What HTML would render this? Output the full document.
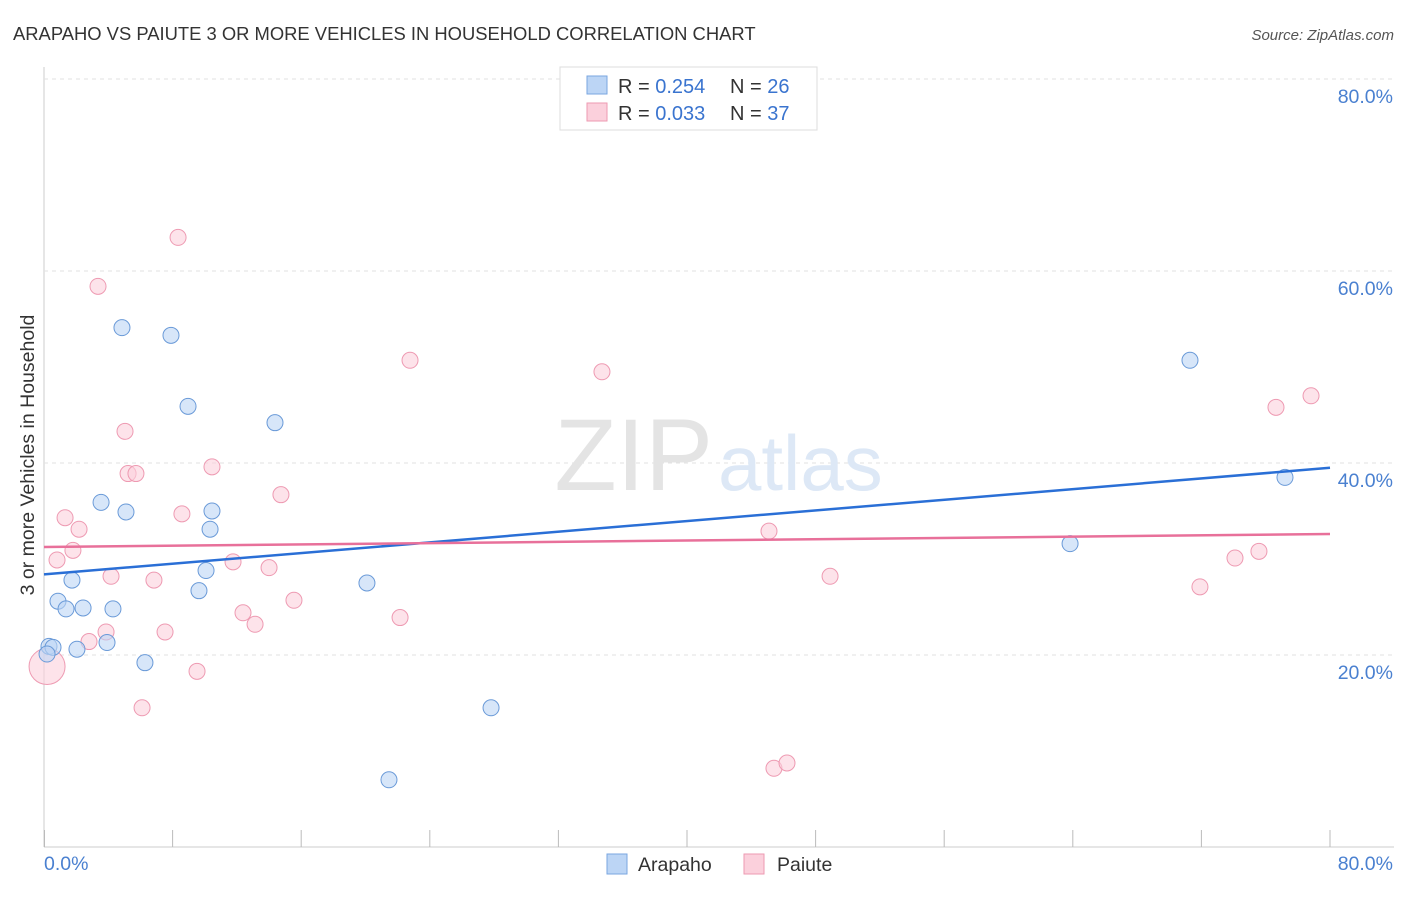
<!DOCTYPE html>
<html><head><meta charset="utf-8"><style>
body{margin:0;background:#fff;font-family:"Liberation Sans",sans-serif;}
svg text{font-family:"Liberation Sans",sans-serif;}
</style></head><body>
<svg width="1406" height="892">
<text x="13" y="40" font-size="18.4" fill="#333">ARAPAHO VS PAIUTE 3 OR MORE VEHICLES IN HOUSEHOLD CORRELATION CHART</text>
<text x="1394" y="40" font-size="15" fill="#555" font-style="italic" text-anchor="end">Source: ZipAtlas.com</text>
<g id="grid"></g>
<text x="713" y="490" font-size="102" fill="#e4e4e4" text-anchor="end" font-family="Liberation Serif">ZIP</text>
<text x="718" y="490" font-size="78" fill="#dde8f6">atlas</text>
<g id="marks"></g>
<text x="34" y="455" font-size="19.5" fill="#333" transform="rotate(-90 34 455)" text-anchor="middle">3 or more Vehicles in Household</text>
<text x="44" y="870" font-size="19.5" fill="#4a80d0">0.0%</text>
<text x="1393" y="870" font-size="19.5" fill="#4a80d0" text-anchor="end">80.0%</text>
<g>
<rect x="560" y="67" width="257" height="63" fill="#fff" stroke="#ddd"/>
<rect x="587" y="76" width="20" height="18" fill="#bcd5f5" stroke="#7aa6e0"/>
<rect x="587" y="103" width="20" height="18" fill="#fbd0dc" stroke="#ee9ab2"/>
<text x="618" y="93" font-size="20" fill="#333">R = <tspan fill="#3a74cf">0.254</tspan></text>
<text x="730" y="93" font-size="20" fill="#333">N = <tspan fill="#3a74cf">26</tspan></text>
<text x="618" y="120" font-size="20" fill="#333">R = <tspan fill="#3a74cf">0.033</tspan></text>
<text x="730" y="120" font-size="20" fill="#333">N = <tspan fill="#3a74cf">37</tspan></text>
</g>
<g>
<rect x="607" y="854" width="20" height="20" fill="#bcd5f5" stroke="#7aa6e0"/>
<text x="638" y="871" font-size="19.5" fill="#333">Arapaho</text>
<rect x="744" y="854" width="20" height="20" fill="#fbd0dc" stroke="#ee9ab2"/>
<text x="777" y="871" font-size="19.5" fill="#333">Paiute</text>
</g>
</svg>
<script>
const yTicks=[20,40,60,80];
const yTickLabels=["20.0%","40.0%","60.0%","80.0%"];
const xTicks=[0,8,16,24,32,40,48,56,64,72,80];
const blueX=[0.31,0.56,0.19,0.87,1.37,1.74,2.05,2.43,3.55,3.92,4.29,4.85,5.10,6.28,7.90,8.96,9.64,10.08,10.33,10.45,14.37,20.09,21.46,27.81,63.83,71.29,77.20];
const blueY=[20.9,20.8,20.1,25.6,24.8,27.8,20.6,24.9,35.9,21.3,24.8,54.1,34.9,19.2,53.3,45.9,26.7,28.8,33.1,35.0,44.2,27.5,7.0,14.5,31.6,50.7,38.5];
const pinkX=[0.19,0.81,1.31,1.80,2.18,2.80,3.36,3.86,4.17,5.04,5.23,5.72,6.10,6.84,7.53,8.34,8.58,9.52,10.45,11.76,12.38,13.13,14.00,14.74,15.55,22.15,22.77,34.71,45.10,45.41,46.22,48.90,71.91,74.09,75.58,76.64,78.82];
const pinkY=[18.8,29.9,34.3,30.9,33.1,21.4,58.4,22.4,28.2,43.3,38.9,38.9,14.5,27.8,22.4,63.5,34.7,18.3,39.6,29.7,24.4,23.2,29.1,36.7,25.7,23.9,50.7,49.5,32.9,8.2,8.75,28.2,27.1,30.1,30.8,45.8,47.0];
const blueTrend=[28.4,39.5];
const pinkTrend=[31.25,32.6];
const NS="http://www.w3.org/2000/svg";
const X=v=>44+v*16.075, Y=v=>847-v*9.6;
function mk(t,a,p){const e=document.createElementNS(NS,t);for(const k in a)e.setAttribute(k,a[k]);p.appendChild(e);return e;}
const g=document.getElementById('grid'), m=document.getElementById('marks');
mk('line',{x1:44,y1:67,x2:44,y2:847,stroke:'#ccc'},g);
mk('line',{x1:44,y1:847,x2:1394,y2:847,stroke:'#ccc'},g);
yTicks.forEach((t,i)=>{
 const l=mk('line',{x1:44,y1:Y(t),x2:1394,y2:Y(t),stroke:'#e2e2e2','stroke-dasharray':'4,4'},g);
 
 
 const tx=mk('text',{x:1393,y:Y(t)+24,'font-size':19.5,fill:'#4a80d0','text-anchor':'end'},g);
 tx.textContent=yTickLabels[i];
 
 
});
xTicks.forEach(t=>{
 const l=mk('line',{x1:X(t)+(t==0?0.5:0),y1:830,x2:X(t)+(t==0?0.5:0),y2:847,stroke:'#bbb'},g);
 
 
});
function pts(xs,ys,fill,stroke,name){xs.forEach((x,i)=>{
 const c=mk('circle',{cx:X(x),cy:Y(ys[i]),r:(name=='paiute-point'&&i==0)?18:8,fill:fill,'fill-opacity':0.6,stroke:stroke,'stroke-width':1},m);
 
 
});}
pts(pinkX,pinkY,'#fbd0dc','#ee9ab2','paiute-point');
pts(blueX,blueY,'#bcd5f5','#6a9ad8','arapaho-point');
const bl=mk('line',{x1:X(0),y1:Y(blueTrend[0]),x2:X(80),y2:Y(blueTrend[1]),stroke:'#2a6fd6','stroke-width':2.5},m);


const pl=mk('line',{x1:X(0),y1:Y(pinkTrend[0]),x2:X(80),y2:Y(pinkTrend[1]),stroke:'#e8709a','stroke-width':2.5},m);


</script>
</body></html>
